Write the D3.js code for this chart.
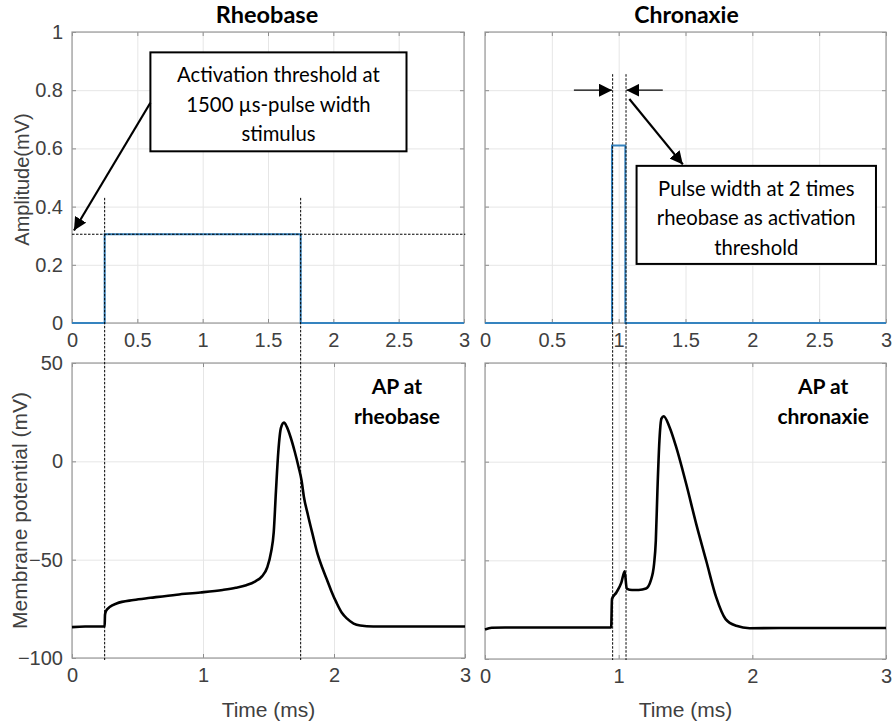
<!DOCTYPE html>
<html>
<head>
<meta charset="utf-8">
<script src="https://cdn.jsdelivr.net/npm/d3@7"></script>
<style>
  body { margin: 0; background: #fff; }
  svg text { font-family: "Liberation Sans", Arial, sans-serif; }
  .tick text { fill: #404040; font-size: 20px; }
  .grid line { stroke: #e6e6e6; }
  .grid path { display: none; }
  .inner line { stroke: #8c8c8c; }
  .inner path { display: none; }
  .lab path, .lab line { display: none; }
  svg text.cal { font-family: Lato, "Open Sans", sans-serif; }
</style>
</head>
<body>
<div id="chart"></div>
<script>
// ---- data ----
const titles = ["Rheobase", "Chronaxie"];
const timeTicksTop = [0, 0.5, 1, 1.5, 2, 2.5, 3];
const timeTicksBottom = [0, 1, 2, 3];
const ampTicks = [0, 0.2, 0.4, 0.6, 0.8, 1];
const vmTicks = [-100, -50, 0, 50];

// stimulus pulses (ms, mV)
const rheoPulseT = [0, 0.25, 0.25, 1.75, 1.75, 3];
const rheoPulseA = [0, 0, 0.305, 0.305, 0, 0];
const chronPulseT = [0, 0.95, 0.95, 1.05, 1.05, 3];
const chronPulseA = [0, 0, 0.61, 0.61, 0, 0];

// action potential at rheobase
const rheoApT = [0, 0.1, 0.249, 0.252, 0.26, 0.29, 0.34, 0.47, 0.6, 0.8, 0.98, 1.15, 1.25, 1.33, 1.4, 1.45, 1.49, 1.52, 1.54, 1.557, 1.575, 1.595, 1.618, 1.64, 1.67, 1.70, 1.73, 1.753, 1.77, 1.80, 1.84, 1.87, 1.91, 1.945, 1.98, 2.02, 2.06, 2.1, 2.15, 2.2, 2.3, 2.5, 3];
const rheoApV = [-84.3, -84, -84, -78, -76, -74, -72.3, -70.5, -69.4, -67.8, -66.7, -65.4, -64.3, -63, -61, -58.5, -54, -46, -36, -15, 5, 17, 19.7, 17.5, 12, 5, -3, -10, -18, -27, -38, -46, -54, -60, -66, -72, -77, -80, -82.5, -83.5, -84, -84, -84];

// action potential at chronaxie
const chronApT = [0, 0.05, 0.15, 0.944, 0.95, 0.983, 1.02, 1.045, 1.06, 1.1, 1.15, 1.205, 1.24, 1.265, 1.278, 1.29, 1.305, 1.32, 1.337, 1.38, 1.43, 1.505, 1.58, 1.655, 1.73, 1.8, 1.88, 1.98, 2.2, 3];
const chronApV = [-85, -84.2, -84, -84, -69.6, -66.3, -61.3, -55.5, -64.3, -65, -65, -64.3, -60.3, -51.8, -40, -14.6, 10.8, 21.8, 23, 17.6, 7.5, -11.2, -31.5, -50.2, -68.8, -79.8, -83.2, -84.4, -84.3, -84.3];

// annotation text
const rheoNote = ["Activation threshold at", "1500 \u00b5s-pulse width", "stimulus"];
const chronNote = ["Pulse width at 2 times", "rheobase as activation", "threshold"];
const apNotes = [["AP at", "rheobase"], ["AP at", "chronaxie"]];

const width = 893, height = 727;
const svg = d3.select("#chart").append("svg")
  .attr("width", width).attr("height", height);

const defs = svg.append("defs");
defs.append("marker").attr("id", "head2")
  .attr("viewBox", "0 0 10 10").attr("refX", 10).attr("refY", 5)
  .attr("markerWidth", 13).attr("markerHeight", 13).attr("markerUnits", "userSpaceOnUse")
  .attr("orient", "auto")
  .append("path").attr("d", "M0,0 L10,5 L0,10 z").attr("fill", "#000");

// panel boxes in pixels
const boxes = {
  tl: {x0: 72, x1: 464, y0: 32, y1: 323},
  tr: {x0: 485, x1: 886, y0: 32, y1: 323},
  bl: {x0: 72, x1: 465, y0: 363, y1: 658},
  br: {x0: 485, x1: 886, y0: 363, y1: 659}
};

function panel(b, yDomain, xTicks, yTicks, yLabels) {
  const x = d3.scaleLinear().domain([0, 3]).range([b.x0, b.x1]);
  const y = d3.scaleLinear().domain(yDomain).range([b.y1, b.y0]);
  const h = b.y1 - b.y0, w = b.x1 - b.x0;

  svg.append("g").attr("class", "grid")
    .attr("transform", `translate(0,${b.y1})`)
    .call(d3.axisBottom(x).tickValues(xTicks).tickSize(-h).tickFormat(""));
  svg.append("g").attr("class", "grid")
    .attr("transform", `translate(${b.x0},0)`)
    .call(d3.axisLeft(y).tickValues(yTicks).tickSize(-w).tickFormat(""));

  // inward ticks on all four sides
  svg.append("g").attr("class", "inner").attr("transform", `translate(0,${b.y1})`)
    .call(d3.axisBottom(x).tickValues(xTicks).tickSize(-4).tickFormat(""));
  svg.append("g").attr("class", "inner").attr("transform", `translate(0,${b.y0})`)
    .call(d3.axisTop(x).tickValues(xTicks).tickSize(-4).tickFormat(""));
  svg.append("g").attr("class", "inner").attr("transform", `translate(${b.x0},0)`)
    .call(d3.axisLeft(y).tickValues(yTicks).tickSize(-4).tickFormat(""));
  svg.append("g").attr("class", "inner").attr("transform", `translate(${b.x1},0)`)
    .call(d3.axisRight(y).tickValues(yTicks).tickSize(-4).tickFormat(""));

  svg.append("rect").attr("x", b.x0).attr("y", b.y0).attr("width", w).attr("height", h)
    .attr("fill", "none").attr("stroke", "#999").attr("stroke-width", 1.2);

  svg.append("g").attr("class", "lab").attr("transform", `translate(0,${b.y1})`)
    .call(d3.axisBottom(x).tickValues(xTicks).tickSize(0).tickPadding(10).tickFormat(d3.format("")));
  if (yLabels) {
    svg.append("g").attr("class", "lab").attr("transform", `translate(${b.x0},0)`)
      .call(d3.axisLeft(y).tickValues(yTicks).tickSize(0).tickPadding(9).tickFormat(d3.format("")));
  }
  return {x, y};
}

const tl = panel(boxes.tl, [0, 1], timeTicksTop, ampTicks, true);
const tr = panel(boxes.tr, [0, 1], timeTicksTop, ampTicks, false);
const bl = panel(boxes.bl, [-100, 50], timeTicksBottom, vmTicks, true);
const br = panel(boxes.br, [-100, 50], timeTicksBottom, vmTicks, false);

// traces
const pulseLine = p => d3.line().x(d => p.x(d[0])).y(d => p.y(d[1]));
const apLine = p => d3.line().curve(d3.curveMonotoneX).x(d => p.x(d[0])).y(d => p.y(d[1]));

svg.append("path").datum(d3.zip(rheoPulseT, rheoPulseA))
  .attr("d", pulseLine(tl)).attr("fill", "none").attr("stroke", "#3583bf").attr("stroke-width", 2);
svg.append("path").datum(d3.zip(chronPulseT, chronPulseA))
  .attr("d", pulseLine(tr)).attr("fill", "none").attr("stroke", "#3583bf").attr("stroke-width", 2);

svg.append("path").datum(d3.zip(rheoApT, rheoApV))
  .attr("d", apLine(bl)).attr("fill", "none").attr("stroke", "#000").attr("stroke-width", 2.6);
svg.append("path").datum(d3.zip(chronApT, chronApV))
  .attr("d", apLine(br)).attr("fill", "none").attr("stroke", "#000").attr("stroke-width", 2.6);

// dashed guide lines
const dash = "2.5,1.5";
[0.25, 1.75].forEach(t => {
  svg.append("line").attr("x1", tl.x(t)).attr("x2", tl.x(t))
    .attr("y1", tl.y(0.43)).attr("y2", bl.y(-100) + 2)
    .attr("stroke", "#000").attr("stroke-width", 1).attr("stroke-dasharray", dash);
});
svg.append("line").attr("x1", tl.x(0)).attr("x2", tl.x(3.01))
  .attr("y1", tl.y(0.305)).attr("y2", tl.y(0.305))
  .attr("stroke", "#000").attr("stroke-width", 1).attr("stroke-dasharray", dash);
[0.955, 1.055].forEach(t => {
  svg.append("line").attr("x1", tr.x(t)).attr("x2", tr.x(t))
    .attr("y1", tr.y(0.855)).attr("y2", br.y(-100) + 1)
    .attr("stroke", "#000").attr("stroke-width", 1).attr("stroke-dasharray", dash);
});

// titles
svg.append("text").attr("class", "cal").attr("x", (boxes.tl.x0 + boxes.tl.x1) / 2 - 1).attr("y", 23)
  .attr("text-anchor", "middle").attr("font-weight", "bold")
  .attr("font-size", 23.5).text(titles[0]);
svg.append("text").attr("class", "cal").attr("x", (boxes.tr.x0 + boxes.tr.x1) / 2 + 1).attr("y", 23)
  .attr("text-anchor", "middle").attr("font-weight", "bold")
  .attr("font-size", 23).text(titles[1]);

// axis labels
svg.append("text").attr("transform", `translate(29,${tl.y(0.5) + 2}) rotate(-90)`)
  .attr("text-anchor", "middle").attr("fill", "#404040").attr("font-size", 20).text("Amplitude(mV)");
svg.append("text").attr("transform", `translate(27,${bl.y(-25)}) rotate(-90)`)
  .attr("text-anchor", "middle").attr("fill", "#404040").attr("font-size", 21).text("Membrane potential (mV)");
svg.append("text").attr("x", bl.x(1.5)).attr("y", 717)
  .attr("text-anchor", "middle").attr("fill", "#404040").attr("font-size", 21).text("Time (ms)");
svg.append("text").attr("x", br.x(1.5)).attr("y", 717)
  .attr("text-anchor", "middle").attr("fill", "#404040").attr("font-size", 21).text("Time (ms)");

// annotation boxes
function noteBox(p, t0, t1, a0, a1, lines) {
  const x0 = p.x(t0), x1 = p.x(t1), y0 = p.y(a0), y1 = p.y(a1);
  svg.append("rect").attr("x", x0).attr("y", y0).attr("width", x1 - x0).attr("height", y1 - y0)
    .attr("fill", "#fff").attr("stroke", "#000").attr("stroke-width", 2);
  const cx = (x0 + x1) / 2, lh = 29.5;
  lines.forEach((s, i) => {
    svg.append("text").attr("class", "cal").attr("x", cx).attr("y", y0 + 30 + i * lh)
      .attr("text-anchor", "middle")
      .attr("font-size", 20.3).attr("fill", "#000").text(s);
  });
}
noteBox(tl, 0.6, 2.56, 0.93, 0.59, rheoNote);
noteBox(tr, 1.134, 2.925, 0.54, 0.203, chronNote);

// arrows
function arrow(p, t0, a0, t1, a1, w) {
  svg.append("line").attr("x1", p.x(t0)).attr("y1", p.y(a0))
    .attr("x2", p.x(t1)).attr("y2", p.y(a1))
    .attr("stroke", "#000").attr("stroke-width", w).attr("marker-end", "url(#head2)");
}
arrow(tl, 0.6, 0.757, 0.015, 0.318, 2.2);
arrow(tr, 1.08, 0.77, 1.48, 0.545, 2.2);
arrow(tr, 0.665, 0.8, 0.95, 0.8, 1.2);
arrow(tr, 1.33, 0.8, 1.058, 0.8, 1.2);

// AP labels
[[bl, apNotes[0], 2.48], [br, apNotes[1], 2.53]].forEach(([p, lines, t]) => {
  lines.forEach((s, i) => {
    svg.append("text").attr("class", "cal").attr("x", p.x(t)).attr("y", 394 + i * 30)
      .attr("text-anchor", "middle").attr("font-weight", "bold")
      .attr("font-size", 21).attr("fill", "#000").text(s);
  });
});
</script>
</body>
</html>
